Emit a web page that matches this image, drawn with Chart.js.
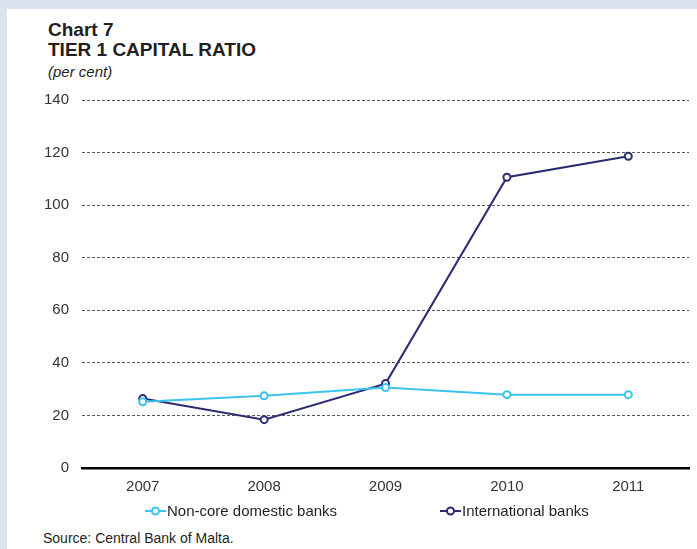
<!DOCTYPE html>
<html>
<head>
<meta charset="utf-8">
<script src="https://cdn.jsdelivr.net/npm/chart.js@4.4.1/dist/chart.umd.min.js"></script>
<style>
  html, body { margin: 0; padding: 0; }
  body { width: 697px; height: 549px; background: #dce3ef; position: relative; overflow: hidden;
         font-family: "Liberation Sans", Arial, sans-serif; }
  #panel { position: absolute; left: 7px; top: 9px; right: 0; bottom: 0; background: #fff; }
  #title { position: absolute; left: 48px; top: 20px; color: #231f20; font-weight: bold; font-size: 19px; line-height: 20px; }
  #unit { position: absolute; left: 48px; top: 63px; color: #231f20; font-style: italic; font-size: 15px; }
  #wrap { position: absolute; left: 0; top: 0; width: 697px; height: 506px; }
  #legend { position: absolute; left: 0; top: 502px; width: 697px; height: 20px; }
  .leg { position: absolute; top: 0; display: flex; align-items: center; font-size: 15px; color: #231f20; white-space: nowrap; }
  .leg svg { margin-right: 1px; }
  #source { position: absolute; left: 43px; top: 530px; font-size: 14px; color: #231f20; }
</style>
</head>
<body>
<div id="panel"></div>
<div id="title">Chart 7<br>TIER 1 CAPITAL RATIO</div>
<div id="unit">(per cent)</div>
<div id="wrap"><canvas id="chart" width="697" height="506"></canvas></div>
<div id="legend"></div>
<div id="source">Source: Central Bank of Malta.</div>
<script>
// Tier 1 capital ratio, per cent
var years = ['2007', '2008', '2009', '2010', '2011'];
var nonCoreDomestic = [25.2, 27.5, 30.6, 27.9, 27.9];
var internationalBanks = [26.4, 18.4, 32.1, 110.6, 118.6];
var yTicks = [0, 20, 40, 60, 80, 100, 120, 140];

var CYAN = '#3ac4ee';
var NAVY = '#2b2a73';

function series(label, data, color) {
  return {
    label: label,
    data: data,
    borderColor: color,
    backgroundColor: '#ffffff',
    borderWidth: 2,
    pointRadius: 3.5,
    pointBorderWidth: 2,
    pointBackgroundColor: '#ffffff',
    pointBorderColor: color,
    tension: 0,
    fill: false
  };
}

var chart = new Chart(document.getElementById('chart').getContext('2d'), {
  type: 'line',
  data: {
    labels: years,
    datasets: [
      series('Non-core domestic banks', nonCoreDomestic, CYAN),
      series('International banks', internationalBanks, NAVY)
    ]
  },
  options: {
    responsive: false,
    animation: false,
    layout: { padding: { left: 31, right: 8, top: 100, bottom: 0 } },
    plugins: { legend: { display: false }, tooltip: { enabled: false } },
    scales: {
      x: {
        offset: true,
        grid: { display: false, drawTicks: false },
        border: { display: true, color: '#000', width: 2.5 },
        ticks: { color: '#333', padding: 10, font: { family: 'Liberation Sans', size: 15 } }
      },
      y: {
        min: 0, max: 140,
        afterBuildTicks: function (axis) { axis.ticks = yTicks.map(function (v) { return { value: v }; }); },
        grid: { color: '#555', lineWidth: 1, drawTicks: false },
        border: { display: false, dash: [3, 2] },
        ticks: { color: '#333', padding: 13, font: { family: 'Liberation Sans', size: 15 } }
      }
    }
  }
});

// legend (line with circle marker), built from the chart datasets
var legendPos = [145, 440];
var legendEl = document.getElementById('legend');
chart.data.datasets.forEach(function (ds, i) {
  var c = ds.borderColor;
  var item = document.createElement('div');
  item.className = 'leg';
  item.style.left = legendPos[i] + 'px';
  item.innerHTML = '<svg width="21" height="12"><line x1="0" y1="6" x2="21" y2="6" stroke="' + c +
    '" stroke-width="2"/><circle cx="10.5" cy="6" r="3.5" fill="#fff" stroke="' + c +
    '" stroke-width="2"/></svg><span>' + ds.label + '</span>';
  legendEl.appendChild(item);
});
</script>
</body>
</html>
